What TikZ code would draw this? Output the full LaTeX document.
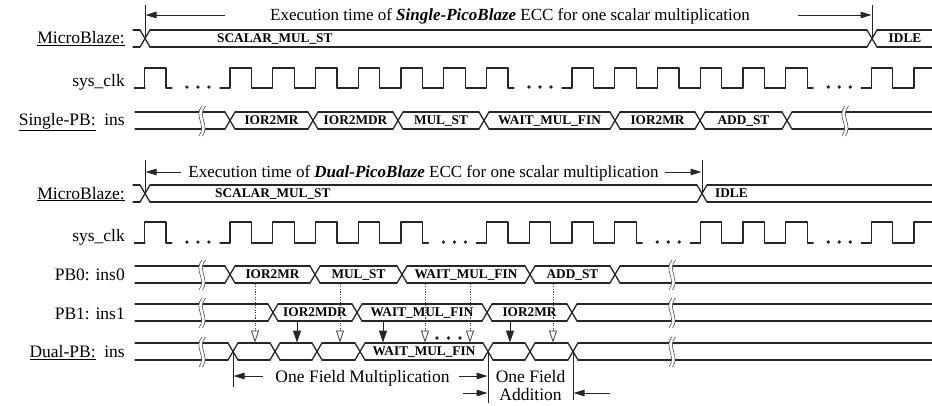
\documentclass[tikz,border=0pt]{standalone}
\usepackage{fontspec}
\setmainfont{Liberation Serif}
\usetikzlibrary{arrows.meta}
\tikzset{
  sig/.style={line width=1.3pt, line cap=round, line join=round, draw=black!85},
  brkline/.style={line width=0.6pt, draw=black!70},
  vbar/.style={line width=1pt, draw=black!85},
  harr/.style={line width=1pt, draw=black!85, -{Triangle[length=11pt,width=6.5pt]}},
  darr/.style={line width=0.8pt, draw=black!75, dash pattern=on 1.2pt off 1.4pt, -{Triangle[open,length=12pt,width=8pt,fill=white]}},
  sarr/.style={line width=1pt, draw=black!85, -{Triangle[length=12pt,width=8pt]}},
  lab/.style={font=\fontsize{17.5}{20}\selectfont, inner sep=0pt},
  head/.style={font=\fontsize{17}{20}\selectfont, inner sep=0pt},
  blab/.style={font=\fontsize{13.3}{15}\selectfont\bfseries, inner sep=0pt},
}
% bus row: #1 top, #2 bottom, #3 start, #4 end, #5 transitions
\newcommand\busrow[5]{%
  \foreach \x [remember=\x as \lastx (initially #3-5)] in {#5,#4+5}{
    \draw[sig] ({\lastx+5},#1) -- ({\x-5},#1) ({\lastx+5},#2) -- ({\x-5},#2);
  }
  \foreach \x in {#5}{
    \draw[sig] ({\x-5},#1) -- ({\x+5},#2) ({\x-5},#2) -- ({\x+5},#1);
  }
}
% break symbol: #1 x, #2 top, #3 bottom
\newcommand\brk[3]{%
  \fill[white] ({#1+2},{#2-6}) .. controls ({#1-7},{#2+4}) and ({#1+7},{#3-4}) .. ({#1-1},{#3+7})
     -- ({#1+2.5},{#3+7}) .. controls ({#1+10.5},{#3-4}) and ({#1-3.5},{#2+4}) .. ({#1+5.5},{#2-6}) -- cycle;
  \draw[brkline] ({#1+2},{#2-6}) .. controls ({#1-7},{#2+4}) and ({#1+7},{#3-4}) .. ({#1-1},{#3+7});
  \draw[brkline] ({#1+5.5},{#2-6}) .. controls ({#1-3.5},{#2+4}) and ({#1+10.5},{#3-4}) .. ({#1+2.5},{#3+7});
}
% clock run: #1 high y, #2 low y, #3 first pulse, #4 last pulse
\newcommand\clkrun[4]{%
  \draw[sig] ({230+42.75*(#3)-10},#2)
    \foreach \k in {#3,...,#4}{ -- ({230+42.75*\k},#2) -- ({230+42.75*\k},#1)
      -- ({251.4+42.75*\k},#1) -- ({251.4+42.75*\k},#2) }
    -- ({251.4+42.75*(#4)+6},#2);
}
% dots for a skipped cycle: #1 k, #2 low y
\newcommand\clkgap[2]{%
  \foreach \d in {-11,0,11}{
    \fill[black!85] ({240.7+42.75*(#1)+\d},{#2-1}) circle (1.8);
  }
}
\begin{document}
\begin{tikzpicture}[x=1pt,y=-1pt]
\useasboundingbox (0,0) rectangle (932,405);

% ================= TOP: Single-PicoBlaze =================
\node[head, anchor=base] (h1) at (510,20) {Execution time of \textbf{\textit{Single-PicoBlaze}} ECC for one scalar multiplication};
\coordinate (t1a) at (145,5);  \coordinate (t1b) at (145,38.5);
\coordinate (t2a) at (872,5);  \coordinate (t2b) at (872,38.5);
\draw[vbar] (t1a) -- (t1b);
\draw[vbar] (t2a) -- (t2b);
\coordinate (a1s) at (225,15); \coordinate (a1e) at (145.5,15);
\coordinate (a2s) at (798,15); \coordinate (a2e) at (871.5,15);
\draw[harr] (a1s) -- (a1e);
\draw[harr] (a2s) -- (a2e);

\node[lab, anchor=base east] (mb1) at (125,43.5) {\underline{MicroBlaze:}};
\busrow{30}{47}{133}{932}{145,872}
\node[blab, anchor=base west] (s1) at (217,42.9) {SCALAR\_MUL\_ST};
\node[blab, anchor=base] (i1) at (905,42.9) {IDLE};

\node[lab, anchor=base east] (ck1) at (125,86.5) {sys\_clk};
\draw[sig] (135,88) -- (145,88);
\clkrun{68}{88}{-2}{-2}
\clkgap{-1}{88}
\clkrun{68}{88}{0}{6}
\clkgap{7}{88}
\clkrun{68}{88}{8}{13}
\clkgap{14}{88}
\clkrun{68}{88}{15}{16}

\node[lab, anchor=base east] (sp) at (125,125.5) {\underline{Single-PB:}~~ins};
\busrow{112}{129}{135}{932}{230,313,398,484,615,700,787}
\brk{200}{112}{129}
\brk{843}{112}{129}
\node[blab, anchor=base] (sb1) at (271.5,124.9) {IOR2MR};
\node[blab, anchor=base] (sb2) at (355.5,124.9) {IOR2MDR};
\node[blab, anchor=base] (sb3) at (441,124.9) {MUL\_ST};
\node[blab, anchor=base] (sb4) at (549.5,124.9) {WAIT\_MUL\_FIN};
\node[blab, anchor=base] (sb5) at (657.5,124.9) {IOR2MR};
\node[blab, anchor=base] (sb6) at (743.5,124.9) {ADD\_ST};

% ================= BOTTOM: Dual-PicoBlaze =================
\node[head, anchor=base] (h2) at (423.5,177) {Execution time of \textbf{\textit{Dual-PicoBlaze}} ECC for one scalar multiplication};
\coordinate (b1a) at (145,160); \coordinate (b1b) at (145,193.5);
\coordinate (b2a) at (702,160); \coordinate (b2b) at (702,193.5);
\draw[vbar] (b1a) -- (b1b);
\draw[vbar] (b2a) -- (b2b);
\coordinate (a3s) at (181,172); \coordinate (a3e) at (145.5,172);
\coordinate (a4s) at (665,172); \coordinate (a4e) at (701.5,172);
\draw[harr] (a3s) -- (a3e);
\draw[harr] (a4s) -- (a4e);

\node[lab, anchor=base east] (mb2) at (125,199) {\underline{MicroBlaze:}};
\busrow{185}{202}{133}{932}{145,702}
\node[blab, anchor=base west] (s2) at (215,197.9) {SCALAR\_MUL\_ST};
\node[blab, anchor=base west] (i2) at (715,197.9) {IDLE};

\node[lab, anchor=base east] (ck2) at (125,241.5) {sys\_clk};
\draw[sig] (135,243) -- (145,243);
\clkrun{222}{243}{-2}{-2}
\clkgap{-1}{243}
\clkrun{222}{243}{0}{4}
\clkgap{5}{243}
\clkrun{222}{243}{6}{9}
\clkgap{10}{243}
\clkrun{222}{243}{11}{13}
\clkgap{14}{243}
\clkrun{222}{243}{15}{16}

% PB0
\node[lab, anchor=base east] (p0) at (125,280.5) {PB0: ins0};
\busrow{266}{283}{135}{932}{230,315,402,530,615}
\node[blab, anchor=base] (q1) at (272.5,278.9) {IOR2MR};
\node[blab, anchor=base] (q2) at (358.5,278.9) {MUL\_ST};
\node[blab, anchor=base] (q3) at (466,278.9) {WAIT\_MUL\_FIN};
\node[blab, anchor=base] (q4) at (572.5,278.9) {ADD\_ST};

% PB1
\node[lab, anchor=base east] (p1) at (125,319) {PB1: ins1};
\busrow{304}{321}{135}{932}{273,357,487,572}
\node[blab, anchor=base] (r1) at (315,316.9) {IOR2MDR};
\node[blab, anchor=base] (r2) at (422,316.9) {WAIT\_MUL\_FIN};
\node[blab, anchor=base] (r3) at (529.5,316.9) {IOR2MR};

% Dual
\node[lab, anchor=base east] (dp) at (125,357.5) {\underline{Dual-PB:}~~ins};
\busrow{343}{360}{135}{932}{233,275,317,360,488,530,573}
\node[blab, anchor=base] (d1) at (424,355.9) {WAIT\_MUL\_FIN};

% dotted arrows from PB0 to Dual
\foreach \x in {255,340,425,470,553}{
  \draw[darr] (\x,283.5) -- (\x,342.5);
}
% solid arrows from PB1 to Dual
\foreach \x in {297,383,510}{
  \draw[sarr] (\x,321.5) -- (\x,342.5);
}
\foreach \x in {437,448.5,460}{
  \fill[black!85] (\x,338) circle (1.8);
}

% breaks
\foreach \y/\z in {266/283,304/321,343/360}{
  \brk{200}{\y}{\z}
  \brk{670}{\y}{\z}
}

% field operation markers
\coordinate (v1a) at (233,351.5); \coordinate (v1b) at (233,387);
\coordinate (v2a) at (488,351.5); \coordinate (v2b) at (488,403);
\coordinate (v3a) at (573,351.5); \coordinate (v3b) at (573,400);
\draw[vbar] (v1a) -- (v1b);
\draw[vbar] (v2a) -- (v2b);
\draw[vbar] (v3a) -- (v3b);
\node[lab, anchor=base] (fm) at (362.5,382) {One Field Multiplication};
\coordinate (m1s) at (263,376); \coordinate (m1e) at (233.5,376);
\draw[harr] (m1s) -- (m1e);
\coordinate (m2s) at (459,376); \coordinate (m2e) at (487.5,376);
\draw[harr] (m2s) -- (m2e);
\node[lab, anchor=base] (fa1) at (530.5,382) {One Field};
\node[lab, anchor=base] (fa2) at (530.5,400) {Addition};
\coordinate (m3s) at (463,393); \coordinate (m3e) at (487.5,393);
\coordinate (m4s) at (610,393); \coordinate (m4e) at (573.5,393);
\draw[harr] (m3s) -- (m3e);
\draw[harr] (m4s) -- (m4e);
\end{tikzpicture}
\end{document}
